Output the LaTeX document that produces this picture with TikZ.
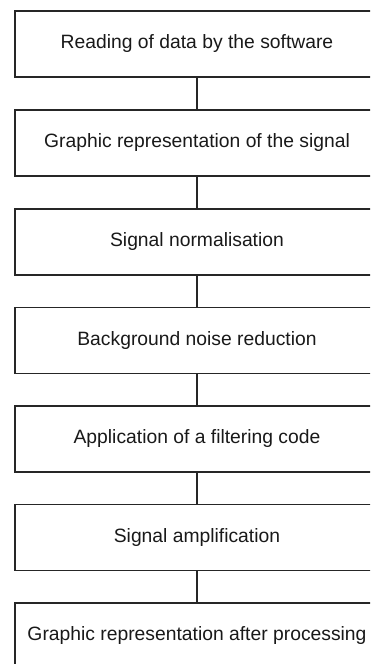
\documentclass[tikz,border=0pt]{standalone}
\usepackage{fontspec}
\setmainfont{Liberation Sans}
\begin{document}
\begin{tikzpicture}[x=1pt,y=-1pt,
  stepbox/.style={draw=black!85, line width=1.4pt, minimum width=364pt, minimum height=66pt,
    inner sep=0pt, font=\fontsize{19.3}{23}\selectfont, text=black!90},
  link/.style={draw=black!85, line width=1.4pt}]
\useasboundingbox (0,0) rectangle (370,664);
\clip (0,0) rectangle (370,664);
\node[stepbox] (s1) at (197,44) {Reading of data by the software};
\node[stepbox] (s2) at (197,143) {Graphic representation of the signal};
\node[stepbox] (s3) at (197,242) {Signal normalisation};
\node[stepbox] (s4) at (197,340.5) {Background noise reduction};
\node[stepbox] (s5) at (197,439) {Application of a filtering code};
\node[stepbox] (s6) at (197,537.5) {Signal amplification};
\node[stepbox] (s7) at (197,636) {Graphic representation after processing};
\draw[link] (s1) -- (s2);
\draw[link] (s2) -- (s3);
\draw[link] (s3) -- (s4);
\draw[link] (s4) -- (s5);
\draw[link] (s5) -- (s6);
\draw[link] (s6) -- (s7);
\end{tikzpicture}
\end{document}
